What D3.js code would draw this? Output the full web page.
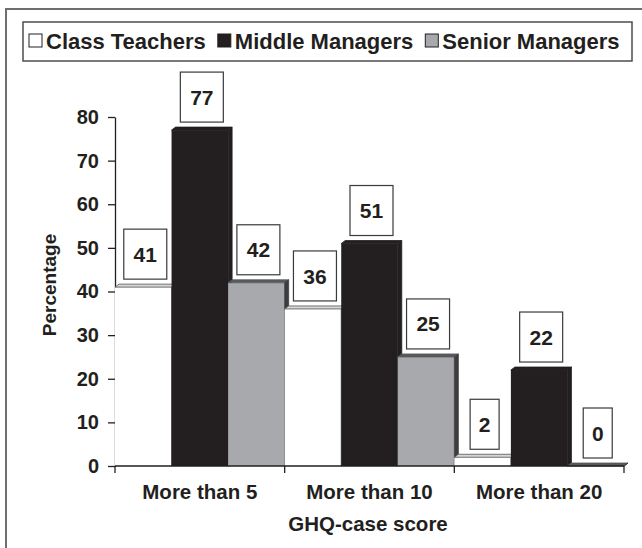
<!DOCTYPE html>
<html>
<head>
<meta charset="utf-8">
<script src="https://cdn.jsdelivr.net/npm/d3@7"></script>
<style>
  body { margin: 0; background: #fff; }
  svg text { font-family: "Liberation Sans", Arial, sans-serif; font-weight: bold; fill: #231f20; }
</style>
</head>
<body>
<svg id="chart" width="642" height="548"></svg>
<script>
const categories = ['More than 5', 'More than 10', 'More than 20'];
const series = ['Class Teachers', 'Middle Managers', 'Senior Managers'];
const classTeachers = [41, 36, 2];
const middleManagers = [77, 51, 22];
const seniorManagers = [42, 25, 0];
const yTicks = [0, 10, 20, 30, 40, 50, 60, 70, 80];

const seriesValues = [classTeachers, middleManagers, seniorManagers];
const colors = {
  'Class Teachers': { front: '#ffffff', top: '#d6d6d6', side: '#bcbcbc', stroke: '#555' },
  'Middle Managers': { front: '#231f20', top: '#231f20', side: '#231f20', stroke: 'none' },
  'Senior Managers': { front: '#a7a9ac', top: '#58595b', side: '#3d3d3f', stroke: 'none' }
};
const legendFill = { 'Class Teachers': '#ffffff', 'Middle Managers': '#231f20', 'Senior Managers': '#a7a9ac' };

const svg = d3.select('#chart');

// outer frame (cropped on right/bottom)
svg.append('rect')
  .attr('x', 6).attr('y', 9).attr('width', 660).attr('height', 560)
  .attr('fill', 'none').attr('stroke', '#6d6e71').attr('stroke-width', 2);

// legend
const legend = svg.append('g');
legend.append('rect')
  .attr('x', 23).attr('y', 22).attr('width', 609).attr('height', 39)
  .attr('fill', '#fff').attr('stroke', '#4d4d4f').attr('stroke-width', 1.5);

let lx = 29;
series.forEach((s) => {
  legend.append('rect')
    .attr('x', lx).attr('y', 34).attr('width', 13).attr('height', 13)
    .attr('fill', legendFill[s]).attr('stroke', '#231f20').attr('stroke-width', 1);
  const t = legend.append('text')
    .attr('x', lx + 17).attr('y', 49)
    .attr('font-size', 22)
    .text(s);
  lx += 17 + t.node().getComputedTextLength() + 12;
});

// scales
const x = d3.scaleBand().domain(categories).range([115, 624]).padding(0);
const xs = d3.scaleBand().domain(series).range([0, x.bandwidth()]).padding(0);
const y = d3.scaleLinear().domain([0, 80]).range([466, 117]);

const dx = 4, dy = 3;

// y axis
const yAxis = svg.append('g')
  .attr('transform', 'translate(115,0)')
  .call(d3.axisLeft(y).tickValues(yTicks).tickSize(7).tickPadding(9).tickSizeOuter(0));
yAxis.select('.domain').attr('stroke', '#231f20').attr('stroke-width', 1.3);
yAxis.selectAll('.tick line').attr('stroke', '#231f20').attr('stroke-width', 1.3);
yAxis.selectAll('.tick text')
  .attr('font-size', 20).attr('font-family', '"Liberation Sans", Arial, sans-serif')
  .attr('font-weight', 'bold').attr('fill', '#231f20');

// bars
const bars = svg.append('g');
categories.forEach((c, ci) => {
  series.forEach((s, si) => {
    const v = seriesValues[si][ci];
    const x0 = x(c) + xs(s);
    const w = xs.bandwidth();
    const yt = y(v);
    const yb = y(0);
    const col = colors[s];
    bars.append('rect')
      .attr('x', x0).attr('y', yt).attr('width', w).attr('height', yb - yt)
      .attr('fill', col.front);
    bars.append('path')
      .attr('d', `M${x0},${yt}L${x0 + dx},${yt - dy}L${x0 + w + dx},${yt - dy}L${x0 + w},${yt}Z`)
      .attr('fill', col.top).attr('stroke', col.stroke === 'none' ? col.top : col.stroke).attr('stroke-width', 0.8);
    bars.append('path')
      .attr('d', `M${x0 + w},${yt}L${x0 + w + dx},${yt - dy}L${x0 + w + dx},${yb - dy}L${x0 + w},${yb}Z`)
      .attr('fill', col.side).attr('stroke', col.stroke === 'none' ? col.side : col.stroke).attr('stroke-width', 0.8);
  });
});

// x axis
svg.append('line')
  .attr('x1', 115).attr('x2', 624).attr('y1', y(0)).attr('y2', y(0))
  .attr('stroke', '#231f20').attr('stroke-width', 1.3);
const bounds = categories.map((c) => x(c)).concat([x.range()[1]]);
svg.selectAll('.xsep').data(bounds).join('line')
  .attr('x1', (d) => d).attr('x2', (d) => d)
  .attr('y1', y(0)).attr('y2', y(0) + 7)
  .attr('stroke', '#231f20').attr('stroke-width', 1.3);
svg.selectAll('.xlab').data(categories).join('text')
  .attr('x', (d) => x(d) + x.bandwidth() / 2)
  .attr('y', 499)
  .attr('text-anchor', 'middle')
  .attr('font-size', 20.5)
  .text((d) => d);

// axis titles
svg.append('text')
  .attr('x', 368).attr('y', 531)
  .attr('text-anchor', 'middle').attr('font-size', 20.5)
  .text('GHQ-case score');
svg.append('text')
  .attr('transform', 'translate(56,285) rotate(-90)')
  .attr('text-anchor', 'middle').attr('font-size', 19)
  .text('Percentage');

// value label boxes
const labels = svg.append('g');
categories.forEach((c, ci) => {
  series.forEach((s, si) => {
    const v = seriesValues[si][ci];
    const cx = x(c) + xs(s) + xs.bandwidth() / 2 + 2;
    const bw = String(v).length > 1 ? 43 : 29;
    const bh = 50;
    const bottom = y(v) - dy - 5;
    labels.append('rect')
      .attr('x', cx - bw / 2).attr('y', bottom - bh).attr('width', bw).attr('height', bh)
      .attr('fill', '#fff').attr('stroke', '#3a3a3c').attr('stroke-width', 1.2);
    labels.append('text')
      .attr('x', cx).attr('y', bottom - bh / 2)
      .attr('dy', '0.36em')
      .attr('text-anchor', 'middle').attr('font-size', 21)
      .text(v);
  });
});
</script>
</body>
</html>
